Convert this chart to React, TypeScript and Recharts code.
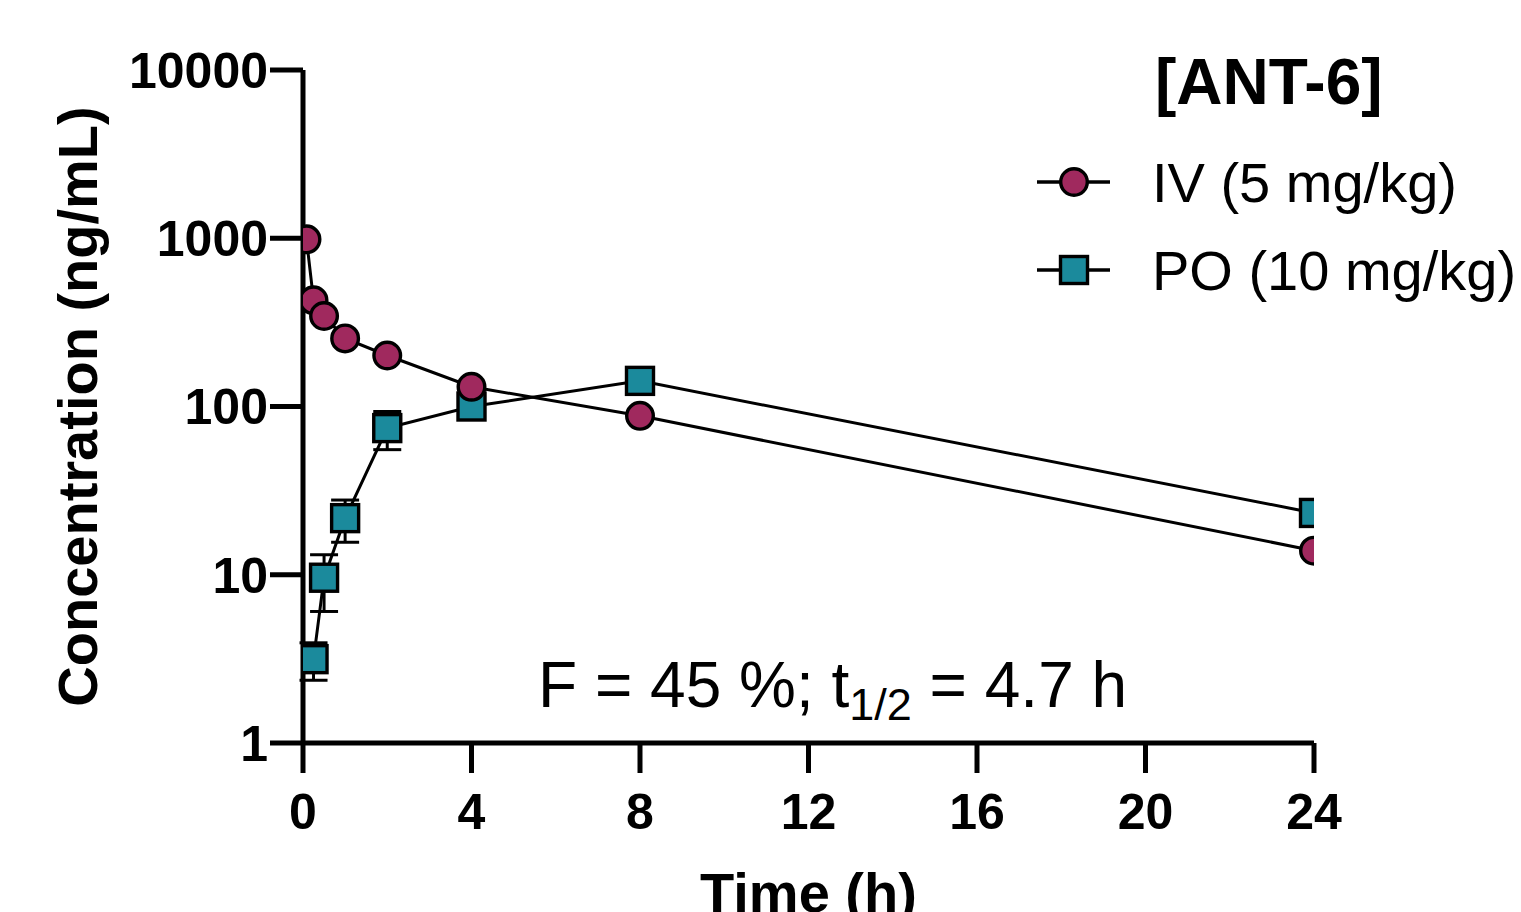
import React from "react";
import {
  ComposedChart,
  Line,
  XAxis,
  YAxis,
  ErrorBar,
  Legend,
  Label,
} from "recharts";

const FONT = "'Liberation Sans', Arial, Helvetica, sans-serif";
const IV_COLOR = "#A0295E";
const PO_COLOR = "#1B8A9C";

// IV (5 mg/kg)
const ivTime = [0.083, 0.25, 0.5, 1, 2, 4, 8, 24];
const ivConc = [985, 428, 345, 254, 201, 131, 88, 13.9];

// PO (10 mg/kg)
const poTime = [0.25, 0.5, 1, 2, 4, 8, 24];
const poConc = [3.15, 9.6, 21.7, 74.4, 100, 142, 23.3];
const poSd = [0.79, 3.55, 6.1, 19, 10, 15, null];

const xTicks = [0, 4, 8, 12, 16, 20, 24];
const yTicks = [1, 10, 100, 1000, 10000];

const legendTitle = "[ANT-6]";
const ivName = "IV (5 mg/kg)";
const poName = "PO (10 mg/kg)";
const legendOrder = [ivName, poName];
const noteMain = "F = 45 %; t";
const noteSub = "1/2";
const noteRest = " = 4.7 h";

const ivData = ivTime.map((t, i) => ({ t, conc: ivConc[i] }));
const poData = poTime.map((t, i) => ({ t, conc: poConc[i], sd: poSd[i] }));

const R = 13.3;
const SQ = 27;

function CircleDot(props: any) {
  const { cx, cy } = props;
  if (cx == null || cy == null) return null;
  return (
    <circle key={props.key} cx={cx} cy={cy} r={R} fill={IV_COLOR} stroke="#000" strokeWidth={3.4} />
  );
}

function SquareDot(props: any) {
  const { cx, cy } = props;
  if (cx == null || cy == null) return null;
  return (
    <rect key={props.key} x={cx - SQ / 2} y={cy - SQ / 2} width={SQ} height={SQ} fill={PO_COLOR} stroke="#000" strokeWidth={3.4} />
  );
}

function LegendBox(props: any) {
  const payload: any[] = props.payload || [];
  const items = legendOrder
    .map((name) => payload.find((p) => p.value === name))
    .filter(Boolean);
  return (
    <svg width={491} height={300} style={{ overflow: "visible", fontFamily: FONT }}>
      <text x={125} y={64} fontSize={64} fontWeight="bold" fill="#000">
        {legendTitle}
      </text>
      {items.map((entry: any, i: number) => {
        const y = 142 + i * 88;
        const isIv = entry.value === ivName;
        return (
          <g key={entry.value}>
            <line x1={7} x2={80} y1={y} y2={y} stroke="#000" strokeWidth={3.4} />
            {isIv ? (
              <circle cx={44} cy={y} r={R} fill={IV_COLOR} stroke="#000" strokeWidth={3.4} />
            ) : (
              <rect x={44 - SQ / 2} y={y - SQ / 2} width={SQ} height={SQ} fill={PO_COLOR} stroke="#000" strokeWidth={3.4} />
            )}
            <text x={122} y={y + 20} fontSize={56} fill="#000">
              {entry.value}
            </text>
          </g>
        );
      })}
    </svg>
  );
}

export default function App() {
  const tick = { fill: "#000", fontSize: 50, fontWeight: "bold", fontFamily: FONT };
  const axisLine = { stroke: "#000", strokeWidth: 5 };
  return (
    <div style={{ position: "absolute", left: 0, top: 0, width: 1521, height: 912, background: "#fff" }}>
      <ComposedChart
        width={1521}
        height={912}
        margin={{ top: 70, right: 207, left: 0, bottom: 0 }}
        style={{ fontFamily: FONT }}
      >
        <XAxis
          type="number"
          dataKey="t"
          domain={[0, 24]}
          ticks={xTicks}
          allowDataOverflow
          height={169}
          tick={tick}
          tickSize={30}
          tickMargin={20}
          axisLine={axisLine}
          tickLine={axisLine}
        >
          <Label
            value="Time (h)"
            position="insideBottom"
            offset={0}
            style={{ fontSize: 56, fontWeight: "bold", fill: "#000", fontFamily: FONT }}
          />
        </XAxis>
        <YAxis
          type="number"
          scale="log"
          domain={[1, 10000]}
          ticks={yTicks}
          allowDataOverflow
          width={303}
          tick={tick}
          tickSize={33}
          tickMargin={2}
          axisLine={axisLine}
          tickLine={axisLine}
        >
          <Label
            value="Concentration (ng/mL)"
            position="insideLeft"
            angle={-90}
            offset={77}
            style={{ fontSize: 56, fontWeight: "bold", fill: "#000", fontFamily: FONT, textAnchor: "middle" }}
          />
        </YAxis>
        <Legend
          layout="vertical"
          align="center"
          verticalAlign="middle"
          wrapperStyle={{ position: "absolute", left: 1030, top: 40, width: 491 }}
          content={<LegendBox />}
        />
        <Line
          data={poData}
          dataKey="conc"
          name={poName}
          stroke="#000"
          strokeWidth={3}
          dot={<SquareDot />}
          activeDot={false}
          isAnimationActive={false}
        >
          <ErrorBar dataKey="sd" direction="y" width={14} stroke="#000" strokeWidth={3} />
        </Line>
        <Line
          data={ivData}
          dataKey="conc"
          name={ivName}
          stroke="#000"
          strokeWidth={3}
          dot={<CircleDot />}
          activeDot={false}
          isAnimationActive={false}
        />
      </ComposedChart>
      <svg
        width={1521}
        height={912}
        style={{ position: "absolute", left: 0, top: 0, pointerEvents: "none", fontFamily: FONT }}
      >
        <text x={538} y={707} fontSize={64} fill="#000">
          {noteMain}
          <tspan fontSize={45} dy={13}>{noteSub}</tspan>
          <tspan fontSize={64} dy={-13}>{noteRest}</tspan>
        </text>
      </svg>
    </div>
  );
}
